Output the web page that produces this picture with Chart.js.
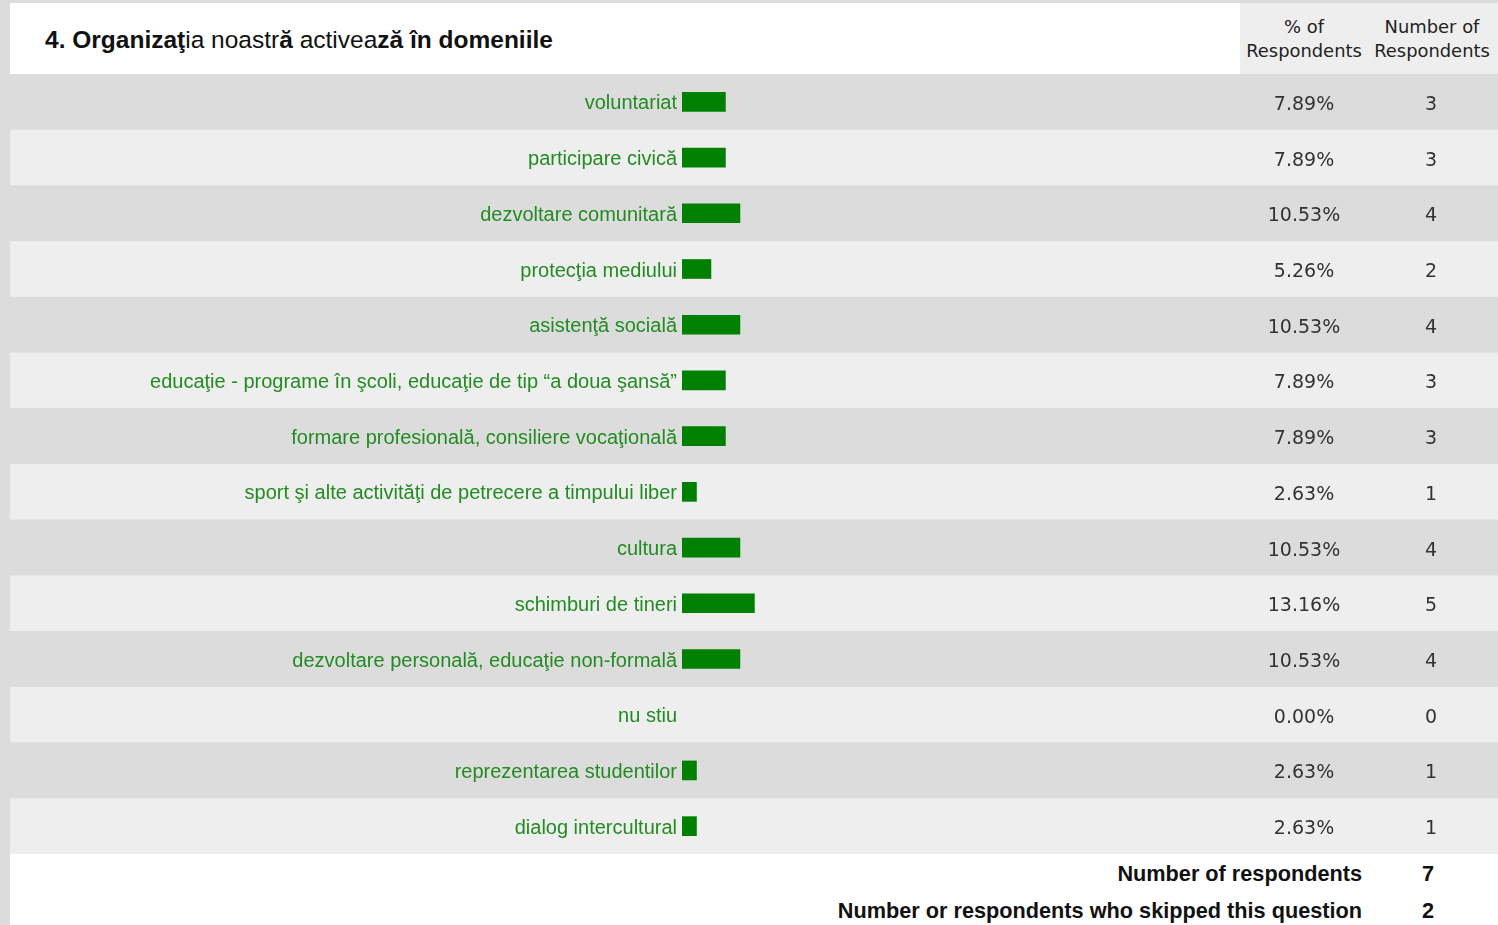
<!DOCTYPE html>
<html>
<head>
<meta charset="utf-8">
<script src="https://cdn.jsdelivr.net/npm/chart.js@4/dist/chart.umd.min.js"></script>
<style>
  html, body { margin: 0; padding: 0; }
  body { width: 1498px; height: 925px; background: #dcdcdc; position: relative; overflow: hidden; }
  #hdr { position: absolute; left: 10px; top: 3px; width: 1230px; height: 71px; background: #ffffff; }
  #title { position: absolute; left: 35px; top: 1px; line-height: 71px; font-family: "Liberation Sans", Arial, sans-serif; font-size: 24.5px; color: #111; white-space: nowrap; }
  #title b { font-weight: bold; }
  #title span { font-weight: normal; }
  #colhdr { position: absolute; left: 1240px; top: 3px; width: 258px; height: 71px; background: #eeeeee; font-family: "DejaVu Sans", sans-serif; font-size: 17.9px; color: #222; }
  .ch { position: absolute; top: 12px; text-align: center; line-height: 24px; white-space: nowrap; }
  #wrap { position: absolute; left: 10px; top: 74px; width: 1488px; height: 780px; }
  #ftr { position: absolute; left: 10px; top: 854px; width: 1488px; height: 71px; background: #ffffff; font-family: "Liberation Sans", Arial, sans-serif; font-weight: bold; font-size: 21.7px; color: #111; }
  .fl { position: absolute; right: 136px; white-space: nowrap; }
  .fv { position: absolute; left: 1408px; width: 20px; text-align: center; }
</style>
</head>
<body>
<div id="hdr"><div id="title"><b>4. Organizaţ</b><span>ia noastr</span><b>ă</b><span> activea</span><b>ză în domeniile</b></div></div>
<div id="colhdr">
  <div class="ch" style="left:0;width:128px;">% of<br>Respondents</div>
  <div class="ch" style="left:128px;width:128px;">Number of<br>Respondents</div>
</div>
<div id="wrap"><canvas id="c" width="1488" height="780"></canvas></div>
<div id="ftr">
  <div class="fl" style="top:7px;">Number of respondents</div>
  <div class="fv" style="top:7px;">7</div>
  <div class="fl" style="top:44px;">Number or respondents who skipped this question</div>
  <div class="fv" style="top:44px;">2</div>
</div>
<script>
const categories = [
  "voluntariat",
  "participare civică",
  "dezvoltare comunitară",
  "protecţia mediului",
  "asistenţă socială",
  "educaţie - programe în şcoli, educaţie de tip “a doua şansă”",
  "formare profesională, consiliere vocaţională",
  "sport şi alte activităţi de petrecere a timpului liber",
  "cultura",
  "schimburi de tineri",
  "dezvoltare personală, educaţie non-formală",
  "nu stiu",
  "reprezentarea studentilor",
  "dialog intercultural"
];
const percents = [7.89, 7.89, 10.53, 5.26, 10.53, 7.89, 7.89, 2.63, 10.53, 13.16, 10.53, 0.00, 2.63, 2.63];
const counts = [3, 3, 4, 2, 4, 3, 3, 1, 4, 5, 4, 0, 1, 1];

const rowBg = {
  id: 'rowBg',
  beforeDraw(chart) {
    const ctx = chart.ctx, y = chart.scales.y, a = chart.chartArea;
    const h = a.height / categories.length;
    ctx.save();
    categories.forEach((c, i) => {
      const cy = y.getPixelForValue(i);
      ctx.fillStyle = i % 2 === 0 ? '#dcdcdc' : '#eeeeee';
      ctx.fillRect(0, cy - h / 2, chart.width, h);
    });
    ctx.restore();
  }
};
const cols = {
  id: 'cols',
  afterDraw(chart) {
    const ctx = chart.ctx, y = chart.scales.y;
    ctx.save();
    ctx.font = '19px "DejaVu Sans", sans-serif';
    ctx.fillStyle = '#333333';
    ctx.textAlign = 'center';
    ctx.textBaseline = 'middle';
    categories.forEach((c, i) => {
      const cy = y.getPixelForValue(i) + 3;
      ctx.fillText(percents[i].toFixed(2) + '%', 1294, cy);
      ctx.fillText(String(counts[i]), 1421, cy);
    });
    ctx.restore();
  }
};

new Chart(document.getElementById('c'), {
  type: 'bar',
  data: {
    labels: categories,
    datasets: [{
      data: percents,
      backgroundColor: (ctx) => (ctx.raw > 0 ? '#008000' : 'rgba(0,0,0,0)'),
      borderWidth: 0,
      barThickness: 19
    }]
  },
  options: {
    indexAxis: 'y',
    responsive: false,
    animation: false,
    events: [],
    layout: { padding: { left: 0, right: 266, top: 0, bottom: 0 } },
    plugins: { legend: { display: false }, tooltip: { enabled: false } },
    scales: {
      x: { display: false, min: 0, max: 100 },
      y: {
        grid: { display: false, drawTicks: false },
        border: { display: false },
        afterFit(s) { s.width = 672; s.paddingTop = 0; s.paddingBottom = 0; },
        ticks: {
          color: '#228b22',
          padding: 5,
          labelOffset: 2,
          autoSkip: false,
          font: { family: '"Liberation Sans", Arial, sans-serif', size: 20 }
        }
      }
    }
  },
  plugins: [rowBg, cols]
});
</script>
</body>
</html>
